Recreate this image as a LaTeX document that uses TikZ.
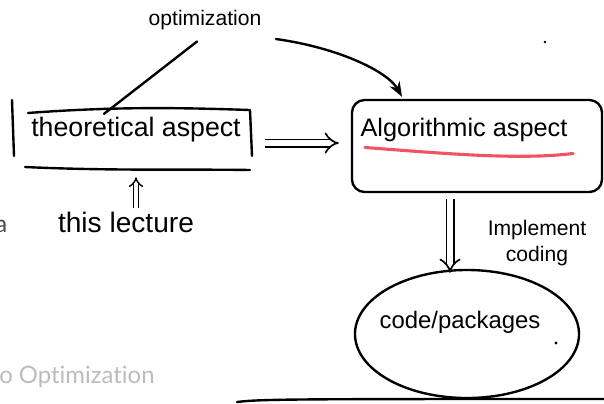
\documentclass[tikz,border=0pt]{standalone}
\usepackage{fontspec}
\setmainfont{Liberation Sans}
\newfontfamily\footfont[Ligatures={NoCommon,NoRequired}]{Lato}
\usepackage{tikz}
\usetikzlibrary{positioning, arrows.meta, shapes.geometric, calc}
\definecolor{inkred}{RGB}{240, 84, 98}
\definecolor{footgray}{RGB}{188, 188, 188}
\tikzset{
  ink/.style={draw=black, line width=1.7pt, line cap=round, line join=round},
  frame/.style={draw=black, line width=1.7pt, rectangle, inner sep=0pt},
  blob/.style={draw=black, line width=1.7pt, ellipse, inner sep=0pt},
  hand/.style={font=\fontsize{19}{22}\selectfont, inner sep=1pt},
  handsm/.style={font=\fontsize{15}{18}\selectfont, inner sep=1pt, align=center},
  dbl/.style={double, double distance=4pt, line width=1.2pt, -{Implies}},
  dblsm/.style={double, double distance=2.5pt, line width=1pt, -{Implies}},
  foot/.style={font=\footfont\fontsize{17}{20}\selectfont, inner sep=0pt},
}
\newcommand{\pw}{604}
\newcommand{\ph}{403}

\begin{document}
\begin{tikzpicture}[x=0.025cm, y=-0.025cm, >=Stealth]
\useasboundingbox (0,0) rectangle (\pw,\ph);

% left box
\node[frame, draw=none, minimum width=5.95cm, minimum height=1.45cm] (theo) at (133,139) {};
\draw[ink] (12,100) -- (14,156);
\draw[ink] (28,113) .. controls (120,106) and (190,108) .. (250,110) -- (252,156);
\draw[ink] (25,167) .. controls (110,171) and (190,169) .. (250,170);
\node[hand] (theotxt) at (136,130) {theoretical aspect};

% right box
\node[frame, rounded corners=9pt, minimum width=6.25cm, minimum height=2.3cm] (algo) at (477,146) {};
\node[hand, font=\fontsize{18}{21}\selectfont] (algotxt) at (464,130) {Algorithmic aspect};
\draw[inkred, line width=2.2pt, line cap=round] ($(algotxt.south west)+(6,4)$) .. controls (450,154) and (520,160) .. ($(algotxt.south east)+(4,10)$);

% code
\node[blob, minimum width=5.6cm, minimum height=3.2cm] (code) at (467,334) {};
\node[hand, font=\fontsize{17}{20}\selectfont] (codetxt) at (460,322) {code/packages};
\fill (556,343) circle (1.6);

% labels
\node[handsm] (opt) at (205,20) {optimization};
\node[hand, font=\fontsize{20}{23}\selectfont] (lect) at (126,222) {this lecture};
\node[handsm] (impl) at (537,243) {Implement\\coding};

% connectors
\draw[ink] ($(opt.south)+(-8,10)$) -- ($(theotxt.north)+(-32,-2)$);
\draw[ink, ->] ($(opt.east)+(13,19)$) .. controls (340,48) and (388,72) .. ($(algo.north)+(-75,-2)$);
\draw[dbl] ($(theo.east)+(12,4)$) -- ($(algo.west |- theo.east)+(-12,4)$);
\coordinate (dn) at (450,0);
\draw[dbl] ($(algo.south -| dn)+(0,6)$) -- ($(code.north -| dn)+(0,4)$);
\draw[dblsm] ($(lect.north)+(10,-2)$) -- ($(theo.south -| lect.north)+(10,8)$);

% slide leftovers
\node[foot, text=black!70, anchor=west] (lefta) at (-5,226) {a};
\node[foot, text=footgray, anchor=west] (title) at (-1,377) {o Optimization};
\draw[ink] (237,402) .. controls (260,399) and (300,399) .. (\pw,399);
\fill (545,42) circle (1.4);

\end{tikzpicture}
\end{document}
